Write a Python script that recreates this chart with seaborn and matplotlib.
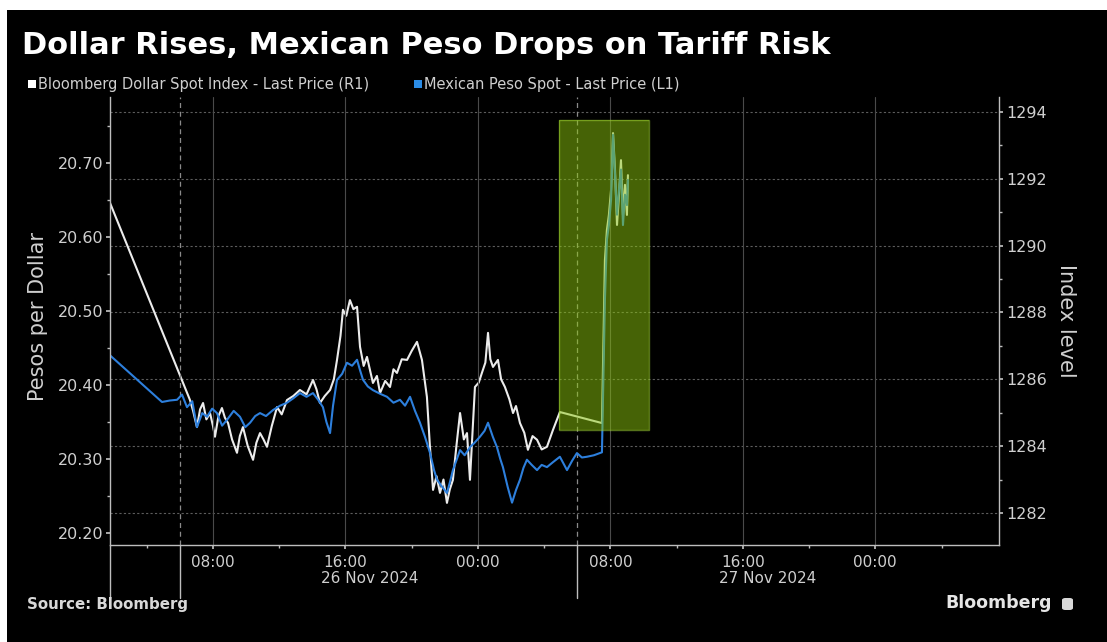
import pandas as pd
import matplotlib
matplotlib.use("Agg")
import matplotlib.pyplot as plt
import matplotlib.dates as mdates
import matplotlib.transforms as mtransforms
from matplotlib.patches import Rectangle, FancyBboxPatch
from matplotlib.ticker import FixedLocator, MultipleLocator, FormatStrFormatter
import seaborn as sns

# ---- data: hours after 26 Nov 2024 00:00 -------------------------------
dxy_hours = [1.78, 6.61, 6.80, 7.03, 7.22, 7.40, 7.60, 7.82, 8.00, 8.12, 8.33, 8.54,
             8.72, 8.91, 9.15, 9.45, 9.62, 9.81, 10.10, 10.42, 10.62, 10.84, 11.05,
             11.26, 11.55, 11.87, 12.15, 12.47, 12.85, 13.25, 13.65, 14.04, 14.25,
             14.46, 14.75, 15.07, 15.30, 15.49, 15.70, 15.85, 16.05, 16.27, 16.48,
             16.70, 16.88, 17.10, 17.30, 17.66, 17.90, 18.09, 18.40, 18.69, 18.90,
             19.11, 19.40, 19.72, 20.00, 20.32, 20.62, 20.92, 21.10, 21.29, 21.50,
             21.71, 21.92, 22.13, 22.30, 22.49, 22.70, 22.92, 23.15, 23.34, 23.52,
             23.82, 24.05, 24.24, 24.45, 24.61, 24.75, 24.91, 25.21, 25.40, 25.63,
             25.90, 26.12, 26.30, 26.54, 26.80, 27.02, 27.30, 27.57, 27.85, 28.17,
             28.53, 28.95, 31.49, 31.67, 31.79, 31.91, 32.04, 32.16, 32.28, 32.40,
             32.52, 32.64, 32.76, 32.88, 33.00, 33.06]
dxy_level = [1291.28, 1285.38, 1285.05, 1284.57, 1285.10, 1285.29, 1284.80, 1284.99,
             1284.60, 1284.28, 1284.90, 1285.14, 1284.85, 1284.69, 1284.20, 1283.80,
             1284.30, 1284.57, 1284.00, 1283.59, 1284.10, 1284.39, 1284.20, 1283.98,
             1284.60, 1285.17, 1284.95, 1285.38, 1285.50, 1285.68, 1285.55, 1285.98,
             1285.70, 1285.29, 1285.50, 1285.68, 1286.00, 1286.58, 1287.30, 1288.08,
             1287.90, 1288.37, 1288.10, 1288.17, 1286.97, 1286.40, 1286.67, 1285.89,
             1286.10, 1285.59, 1285.95, 1285.77, 1286.30, 1286.19, 1286.60, 1286.58,
             1286.85, 1287.12, 1286.58, 1285.47, 1284.00, 1282.69, 1283.10, 1282.60,
             1283.00, 1282.30, 1282.70, 1282.99, 1284.00, 1284.99, 1284.20, 1284.39,
             1282.99, 1285.77, 1285.90, 1286.19, 1286.50, 1287.39, 1286.60, 1286.37,
             1286.58, 1286.00, 1285.77, 1285.40, 1284.99, 1285.20, 1284.69, 1284.40,
             1283.89, 1284.30, 1284.19, 1283.90, 1283.98, 1284.48, 1285.02, 1284.69,
             1289.57, 1290.47, 1290.92, 1291.67, 1293.37, 1292.26, 1290.62, 1291.52,
             1292.56, 1290.92, 1291.82, 1290.92, 1292.11]

mxn_hours = [1.78, 4.92, 5.40, 5.83, 6.13, 6.43, 6.75, 7.03, 7.35, 7.64, 7.95, 8.24,
             8.55, 8.85, 9.25, 9.63, 9.95, 10.24, 10.55, 10.84, 11.20, 11.62, 12.05,
             12.47, 12.85, 13.25, 13.65, 14.04, 14.35, 14.64, 14.85, 15.07, 15.25,
             15.49, 15.80, 16.09, 16.40, 16.70, 16.88, 17.06, 17.35, 17.66, 18.10,
             18.51, 18.90, 19.29, 19.60, 19.90, 20.20, 20.50, 20.80, 21.11, 21.35,
             21.53, 21.85, 22.13, 22.30, 22.49, 22.70, 22.92, 23.20, 23.52, 23.80,
             24.12, 24.40, 24.61, 24.90, 25.15, 25.35, 25.51, 25.80, 26.06, 26.30,
             26.54, 26.75, 26.96, 27.25, 27.57, 27.85, 28.17, 28.55, 28.95, 29.38,
             29.70, 29.98, 30.28, 30.58, 31.00, 31.49, 31.67, 31.79, 31.91, 32.04,
             32.16, 32.28, 32.40, 32.52, 32.64, 32.76, 32.88, 33.00, 33.06]
mxn_level = [20.440, 20.377, 20.379, 20.380, 20.387, 20.370, 20.378, 20.343, 20.362,
             20.357, 20.368, 20.362, 20.345, 20.353, 20.365, 20.357, 20.343, 20.349,
             20.358, 20.362, 20.358, 20.366, 20.372, 20.376, 20.382, 20.389, 20.384,
             20.389, 20.380, 20.370, 20.350, 20.335, 20.372, 20.407, 20.415, 20.430,
             20.426, 20.434, 20.420, 20.407, 20.398, 20.393, 20.388, 20.384, 20.376,
             20.380, 20.372, 20.384, 20.365, 20.349, 20.330, 20.308, 20.285, 20.272,
             20.262, 20.254, 20.268, 20.285, 20.298, 20.312, 20.305, 20.316, 20.322,
             20.330, 20.338, 20.349, 20.330, 20.316, 20.300, 20.289, 20.262, 20.241,
             20.258, 20.272, 20.288, 20.299, 20.292, 20.285, 20.292, 20.289, 20.296,
             20.303, 20.285, 20.298, 20.308, 20.302, 20.303, 20.305, 20.309, 20.515,
             20.596, 20.616, 20.650, 20.738, 20.684, 20.630, 20.664, 20.691, 20.616,
             20.657, 20.643, 20.677]

left_ticks = [20.20, 20.30, 20.40, 20.50, 20.60, 20.70]
right_ticks = [1282, 1284, 1286, 1288, 1290, 1292, 1294]
date_labels = ["26 Nov 2024", "27 Nov 2024"]
date_label_hours = [16, 40]
day_break_hours = [6, 30]
highlight_hours = (28.90, 34.33)
highlight_levels = (1284.48, 1293.76)

title = "Dollar Rises, Mexican Peso Drops on Tariff Risk"
legend_dxy = "Bloomberg Dollar Spot Index - Last Price (R1)"
legend_mxn = "Mexican Peso Spot - Last Price (L1)"

# ---- frames -------------------------------------------------------------
start = pd.Timestamp("2024-11-26")
to_time = lambda h: start + pd.to_timedelta(h, unit="h")
dxy = pd.DataFrame({"time": to_time(pd.Series(dxy_hours)), "level": dxy_level})
mxn = pd.DataFrame({"time": to_time(pd.Series(mxn_hours)), "level": mxn_level})

# ---- style --------------------------------------------------------------
sns.set_theme(style="dark")
plt.rcParams["font.family"] = ["DejaVu Sans"]
TXT = "#cfcfcf"
WHITE_LINE = "#ececec"
BLUE_LINE = "#2d7fdc"

fig = plt.figure(figsize=(11.07, 6.42), dpi=100, facecolor="white")
W, H = 1107, 642
fig.add_artist(Rectangle((7 / W, 0), 1, 1 - 10 / H, transform=fig.transFigure,
                         facecolor="black", edgecolor="none", zorder=-10))

ax = fig.add_axes([110 / W, 1 - 545 / H, (999 - 110) / W, (545 - 97) / H])
ax2 = ax.twinx()
ax.set_zorder(2)
ax2.set_zorder(1)
ax.patch.set_visible(False)
ax2.patch.set_facecolor("black")

# index (right axis), drawn beneath the peso line
sns.lineplot(data=dxy, x="time", y="level", ax=ax2, color=WHITE_LINE,
             linewidth=1.5, estimator=None, sort=False)
sns.lineplot(data=mxn, x="time", y="level", ax=ax, color=BLUE_LINE,
             linewidth=1.5, estimator=None, sort=False)

# ---- axes limits / ticks ----------------------------------------------
ax.set_xlim(to_time(1.78), to_time(55.47))
ax.set_ylim(20.1838, 20.789)
ax2.set_ylim(1281.04, 1294.45)

ax.yaxis.set_major_locator(FixedLocator(left_ticks))
ax.yaxis.set_minor_locator(MultipleLocator(0.05))
ax.yaxis.set_major_formatter(FormatStrFormatter("%.2f"))
ax2.yaxis.set_major_locator(FixedLocator(right_ticks))
ax2.yaxis.set_minor_locator(MultipleLocator(1))

ax.xaxis.set_major_locator(mdates.HourLocator(byhour=[0, 8, 16]))
ax.xaxis.set_minor_locator(mdates.HourLocator(byhour=[4, 12, 20]))
ax.xaxis.set_major_formatter(mdates.DateFormatter("%H:%M"))

for a in (ax, ax2):
    a.set_xlabel("")
    a.set_ylabel("")
    for s in a.spines.values():
        s.set_visible(False)

for side in ("left", "bottom"):
    ax.spines[side].set_visible(True)
    ax.spines[side].set_color("#bdbdbd")
    ax.spines[side].set_linewidth(1.0)
ax2.spines["right"].set_visible(True)
ax2.spines["right"].set_color("#bdbdbd")
ax2.spines["right"].set_linewidth(1.0)

ax.tick_params(axis="y", which="major", left=True, direction="out", length=3,
               color="#bdbdbd", labelcolor=TXT, labelsize=11.5, pad=2)
ax.tick_params(axis="y", which="minor", left=True, direction="out", length=2,
               color="#bdbdbd")
ax2.tick_params(axis="y", which="major", right=True, direction="out", length=3,
                color="#bdbdbd", labelcolor=TXT, labelsize=11.5, pad=2)
ax2.tick_params(axis="y", which="minor", right=True, direction="out", length=2,
                color="#bdbdbd")
ax.tick_params(axis="x", which="major", bottom=True, direction="out", length=3,
               color="#bdbdbd", labelcolor=TXT, labelsize=11, pad=4)
ax.tick_params(axis="x", which="minor", bottom=True, direction="out", length=2,
               color="#bdbdbd")

# grid: dotted horizontals from the index scale, thin verticals at major times
ax2.grid(axis="y", which="major", color="#5c5c5c", linewidth=0.8,
         linestyle=(0, (2, 2)))
ax2.grid(axis="x", visible=False)
ax.grid(axis="x", which="major", color="#4a4a4a", linewidth=0.8, linestyle="-")
ax.grid(axis="y", visible=False)

# day separators: dashed inside, solid below the axis
xt = ax.get_xaxis_transform()
for h in day_break_hours:
    ax.axvline(to_time(h), color="#8a8a8a", linewidth=0.9, linestyle=(0, (4, 3)),
               zorder=0.5)
for h in [1.78] + day_break_hours:
    ax.plot([to_time(h), to_time(h)], [0, -0.118], transform=xt, clip_on=False,
            color="#bdbdbd", linewidth=1.0)

# date labels under the 16:00 ticks
date_tr = mtransforms.offset_copy(xt, fig=fig, x=-0.24, units="inches")
for h, lab in zip(date_label_hours, date_labels):
    ax.text(to_time(h), -0.074, lab, transform=date_tr, ha="left", va="center",
            color=TXT, fontsize=11)

# highlighted window over the spike
x0 = mdates.date2num(to_time(highlight_hours[0]))
x1 = mdates.date2num(to_time(highlight_hours[1]))
ax.add_patch(Rectangle((x0, highlight_levels[0]), x1 - x0,
                       highlight_levels[1] - highlight_levels[0],
                       transform=ax2.transData, facecolor=(0.55, 0.78, 0.05),
                       alpha=0.5, edgecolor="none", zorder=5))
ax.add_patch(Rectangle((x0, highlight_levels[0]), x1 - x0,
                       highlight_levels[1] - highlight_levels[0],
                       transform=ax2.transData, facecolor="none",
                       edgecolor=(0.62, 0.82, 0.2, 0.55), linewidth=1.0, zorder=5))

# axis titles
fig.text(38 / W, 1 - 316 / H, "Pesos per Dollar", rotation=90, ha="center",
         va="center", color=TXT, fontsize=15)
fig.text(1066 / W, 1 - 321 / H, "Index level", rotation=270, ha="center",
         va="center", color=TXT, fontsize=15)

# headline and legend
fig.text(22 / W, 1 - 45 / H, title, ha="left", va="center", color="white",
         fontsize=22, fontweight="bold")
fig.add_artist(Rectangle((28 / W, 1 - 88 / H), 8 / W, 8 / H,
                         transform=fig.transFigure, facecolor="white",
                         edgecolor="none"))
fig.text(38 / W, 1 - 84 / H, legend_dxy, ha="left", va="center", color=TXT,
         fontsize=10.5)
fig.add_artist(Rectangle((414 / W, 1 - 88 / H), 8 / W, 8 / H,
                         transform=fig.transFigure, facecolor="#2b8ce6",
                         edgecolor="none"))
fig.text(424 / W, 1 - 84 / H, legend_mxn, ha="left", va="center", color=TXT,
         fontsize=10.5)

# footer
fig.text(27 / W, 1 - 604 / H, "Source: Bloomberg", ha="left", va="center",
         color="#d8d8d8", fontsize=10.8, fontweight="bold")
fig.text(1052 / W, 1 - 603 / H, "Bloomberg", ha="right", va="center",
         color="#e6e6e6", fontsize=12.5, fontweight="bold")
fig.add_artist(FancyBboxPatch((1062 / W, 1 - 610 / H), 11 / W, 12 / H,
                              boxstyle="round,pad=0,rounding_size=0.003",
                              transform=fig.transFigure, facecolor="#d8d8d8",
                              edgecolor="none"))

fig.savefig("out.png", dpi=100, facecolor=fig.get_facecolor())
